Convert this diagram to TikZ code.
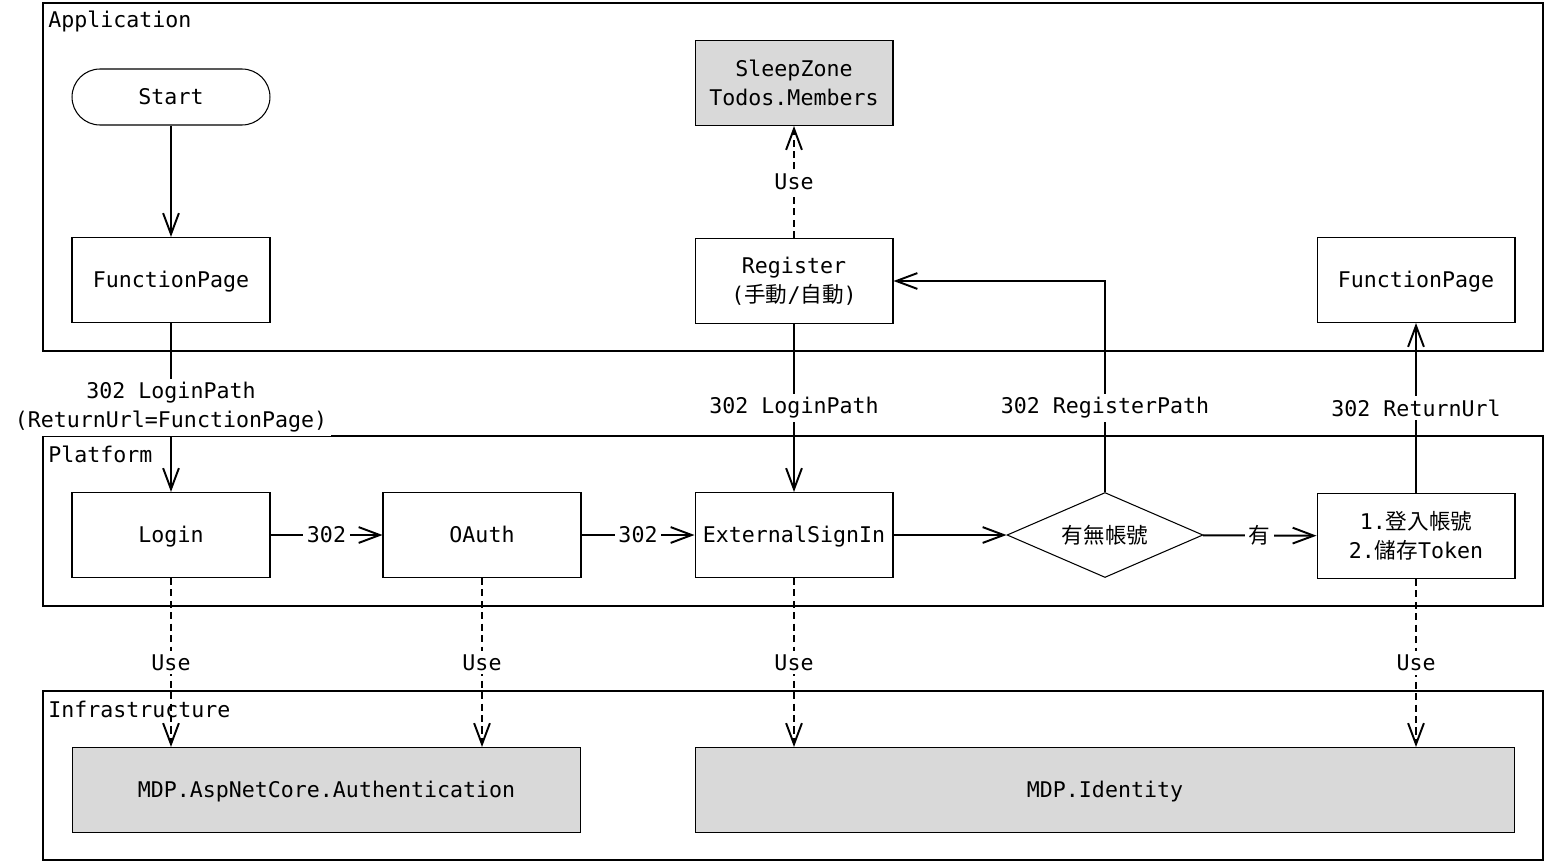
\documentclass[tikz,border=0pt]{standalone}
\usepackage{fontspec}
\setmonofont{DejaVu Sans Mono}
\newfontfamily\cjk{Noto Sans CJK TC}
\usetikzlibrary{arrows.meta,shapes.geometric}

\tikzset{
    every node/.style={font=\ttfamily\fontsize{12.3}{16.5}\selectfont},
    box/.style={draw, line width=0.6pt, align=center, minimum width=3.96cm, minimum height=1.7cm},
    oneline/.style={text height=1em, text depth=0.2em},
    graybox/.style={box, fill=black!15},
    term/.style={draw, line width=0.6pt, rounded corners=0.56cm, minimum width=3.96cm, minimum height=1.12cm},
    check/.style={draw, diamond, line width=0.6pt, aspect=2.3, minimum width=3.92cm, minimum height=1.7cm, inner sep=0pt},
    frame/.style={draw, line width=0.6pt},
    flow/.style={->, line width=1.1pt},
    use/.style={flow, dash pattern=on 4pt off 2.5pt},
    lbl/.style={fill=white, inner sep=2pt},
    >={Straight Barb[length=12pt,width=9pt]}
}

\begin{document}
\begin{tikzpicture}[x=0.02cm, y=-0.02cm]
    \useasboundingbox (0,0) rectangle (1545,862);

    % 分層
    \draw[frame] (43,3) rectangle (1543,351);
    \draw[frame] (43,436) rectangle (1543,606);
    \draw[frame] (43,691) rectangle (1543,860);
    \node[anchor=west, inner sep=0pt] (application) at (48,21) {Application};
    \node[anchor=west, inner sep=0pt] (platform) at (48,454) {Platform};
    \node[anchor=west, inner sep=0pt] (infrastructure) at (48,709) {Infrastructure};

    % Application
    \node[term, oneline] (start) at (171,97) {Start};
    \node[box, oneline] (func) at (171,280) {FunctionPage};
    \node[graybox] (members) at (794,83) {SleepZone\\Todos.Members};
    \node[box] (register) at (794,281) {Register\\({\cjk 手動}/{\cjk 自動})};
    \node[box, oneline] (ret) at (1416,280) {FunctionPage};

    % Platform
    \node[box, oneline] (login) at (171,535) {Login};
    \node[box, oneline] (oauth) at (482,535) {OAuth};
    \node[box, oneline] (signin) at (794,535) {ExternalSignIn};
    \node[check] (check) at (1105,535) {\cjk 有無帳號};
    \node[box] (save) at (1416,536) {1.{\cjk 登入帳號}\\2.{\cjk 儲存}Token};

    % Infrastructure
    \node[graybox, oneline, minimum width=10.18cm] (auth) at (326.5,790) {MDP.AspNetCore.Authentication};
    \node[graybox, oneline, minimum width=16.4cm] (identity) at (1105,790) {MDP.Identity};

    % 流程
    \draw[flow] (start) -- (func);
    \draw[flow] (func) -- node[lbl, align=center] (loginpath) {302 LoginPath\\(ReturnUrl=FunctionPage)} (login);
    \draw[use] (register) -- node[lbl] (usemembers) {Use} (members);
    \draw[flow] (register) -- node[lbl] (loginpath2) {302 LoginPath} (signin);
    \draw[flow] (login) -- node[lbl] (r1) {302} (oauth);
    \draw[flow] (oauth) -- node[lbl] (r2) {302} (signin);
    \draw[flow] (signin) -- (check);
    \draw[flow] (check) -- node[lbl] (yes) {\cjk 有} (save);
    \draw[flow] (check.north) |- node[lbl, pos=0.2] (registerpath) {302 RegisterPath} (register.east);
    \draw[flow] (save) -- node[lbl] (returnurl) {302 ReturnUrl} (ret);

    % 相依
    \draw[use] (login) -- node[lbl] (use1) {Use} (login |- auth.north);
    \draw[use] (oauth) -- node[lbl] (use2) {Use} (oauth |- auth.north);
    \draw[use] (signin) -- node[lbl] (use3) {Use} (signin |- identity.north);
    \draw[use] (save) -- node[lbl] (use4) {Use} (save |- identity.north);
\end{tikzpicture}
\end{document}
